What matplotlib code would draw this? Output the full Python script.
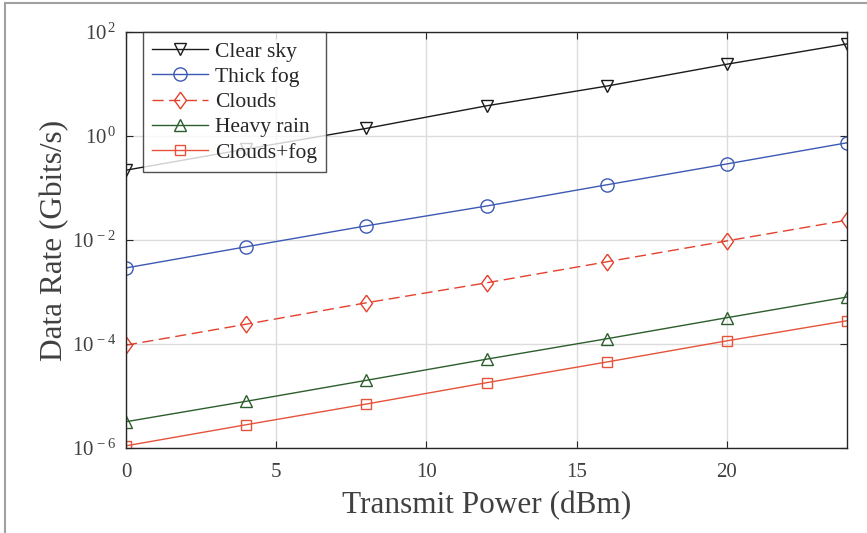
import matplotlib
matplotlib.use('Agg')
import matplotlib.pyplot as plt
from matplotlib.patches import Rectangle

plt.rcParams['font.family'] = ['Liberation Serif', 'DejaVu Serif']
plt.rcParams['mathtext.fontset'] = 'custom'
plt.rcParams['mathtext.rm'] = 'Liberation Serif'
plt.rcParams['mathtext.it'] = 'Liberation Serif:italic'

# -- data --
power = [0, 4, 8, 12, 16, 20, 24]
clear_sky = [0.22, 0.56, 1.4, 3.8, 9.1, 24, 59]
thick_fog = [0.0029, 0.0074, 0.0187, 0.045, 0.115, 0.29, 0.74]
clouds = [9.5e-5, 2.4e-4, 6.2e-4, 1.5e-3, 3.8e-3, 9.6e-3, 0.024]
heavy_rain = [3.2e-6, 7.9e-6, 2.0e-5, 5.1e-5, 1.26e-4, 3.2e-4, 8.0e-4]
clouds_fog = [1.1e-6, 2.8e-6, 7.0e-6, 1.8e-5, 4.5e-5, 1.15e-4, 2.8e-4]

x_ticks = [0, 5, 10, 15, 20]
y_ticks = [1e-6, 1e-4, 1e-2, 1e0, 1e2]
y_tick_labels = [r'$10^{\,-6}$', r'$10^{\,-4}$', r'$10^{\,-2}$', r'$10^{\,0}$', r'$10^{\,2}$']

txt = '#404040'
# slightly taller than wide diamond, like the original
diamond = [(0, 1), (0.72, 0), (0, -1), (-0.72, 0), (0, 1)]

fig = plt.figure(figsize=(8.67, 5.33), dpi=100)
ax = fig.add_axes([0.1453, 0.1595, 0.8317, 0.7805])

ax.plot(power, clear_sky, color='#1a1a1a', lw=1.0, marker='v', ms=9, mfc='none', mew=1.0, label='Clear sky')
ax.plot(power, thick_fog, color='#3c59b4', lw=1.0, marker='o', ms=9.5, mfc='none', mew=1.0, label='Thick fog')
ax.plot(power, clouds, color='#e5402c', lw=1.0, ls=(0, (8, 4)), marker=diamond, ms=12, mfc='none', mew=1.0, label='Clouds')
ax.plot(power, heavy_rain, color='#2d5e2d', lw=1.0, marker='^', ms=9, mfc='none', mew=1.0, label='Heavy rain')
ax.plot(power, clouds_fog, color='#e5533a', lw=1.0, marker='s', ms=7.5, mfc='none', mew=1.0, label='Clouds+fog')

ax.set_yscale('log')
ax.set_xlim(0, 24)
ax.set_ylim(1e-6, 1e2)
ax.set_xticks(x_ticks)
ax.set_xticklabels([str(t) for t in x_ticks])
ax.set_yticks(y_ticks)
ax.set_yticklabels(y_tick_labels)
ax.minorticks_off()
ax.tick_params(direction='in', top=True, right=True, length=5, labelsize=15, colors='#262626', labelcolor=txt)
ax.tick_params(axis='x', pad=11)
ax.tick_params(axis='y', pad=7)
ax.grid(True, color='#dcdcdc', lw=1.0)
for s in ax.spines.values():
    s.set_color('#262626')
    s.set_linewidth(1.0)

ax.set_xlabel('Transmit Power (dBm)', fontsize=22.5, color=txt, labelpad=6)
ax.set_ylabel('Data Rate (Gbits/s)', fontsize=22.5, color=txt, labelpad=2)

leg = ax.legend(loc='upper left', bbox_to_anchor=(0.023, 1.0), fontsize=15.5, frameon=True, fancybox=False,
                edgecolor='#262626', borderpad=0.45, labelspacing=0.24, handlelength=2.6, handletextpad=0.3,
                borderaxespad=0)
leg.get_frame().set_linewidth(1.0)
for t in leg.get_texts():
    t.set_color('#262626')

# grey frame round the picture
fig.patches.append(Rectangle((0.006, -0.01), 1.1, 1.004, transform=fig.transFigure, fill=False,
                             edgecolor='#a0a0a0', lw=1.5))

fig.savefig('out.png', dpi=100)
